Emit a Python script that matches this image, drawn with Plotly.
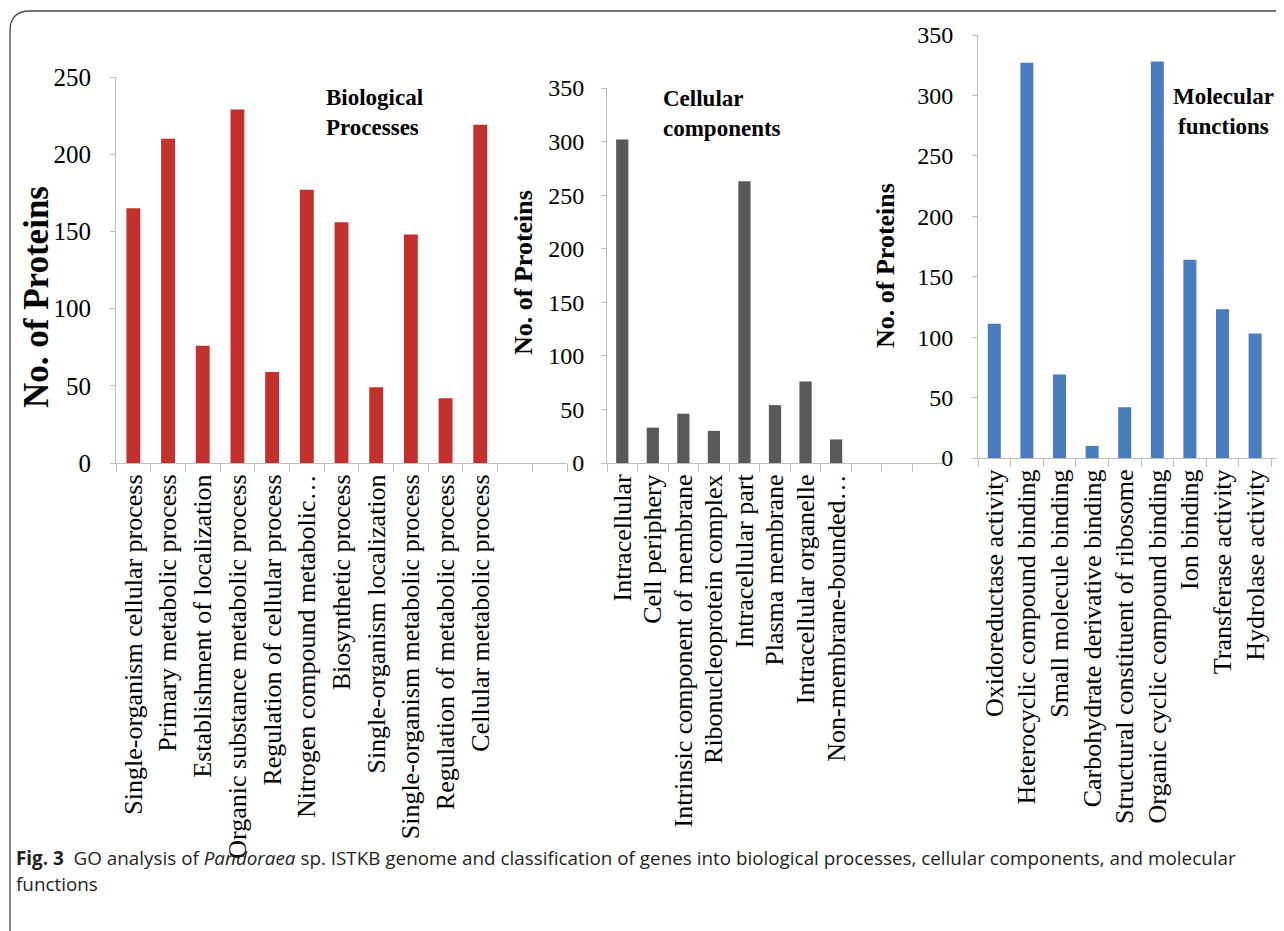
import plotly.graph_objects as go

# ---------------- data ----------------
bp_labels = [
    "Single-organism cellular process",
    "Primary metabolic process",
    "Establishment of localization",
    "Organic substance metabolic process",
    "Regulation of cellular process",
    "Nitrogen compound metabolic…",
    "Biosynthetic process",
    "Single-organism localization",
    "Single-organism metabolic process",
    "Regulation of metabolic process",
    "Cellular metabolic process",
]
bp_values = [165, 210, 76, 229, 59, 177, 156, 49, 148, 42, 219]

cc_labels = [
    "Intracellular",
    "Cell periphery",
    "Intrinsic component of membrane",
    "Ribonucleoprotein complex",
    "Intracellular part",
    "Plasma membrane",
    "Intracellular organelle",
    "Non-membrane-bounded…",
]
cc_values = [302, 33, 46, 30, 263, 54, 76, 22]

mf_labels = [
    "Oxidoreductase activity",
    "Heterocyclic compound binding",
    "Small molecule binding",
    "Carbohydrate derivative binding",
    "Structural constituent of ribosome",
    "Organic cyclic compound binding",
    "Ion binding",
    "Transferase activity",
    "Hydrolase activity",
]
mf_values = [111, 327, 69, 10, 42, 328, 164, 123, 103]

# ---------------- helpers ----------------
W, H = 1284, 931
OFF = 8  # page body margin


def px(x):
    return (x - OFF) / W


def py(y):
    return 1 - (y - OFF) / H


SERIF = "Liberation Serif, Times New Roman, serif"
AX_COL = "#BDBDBD"

fig = go.Figure()
fig.add_trace(go.Bar(x=bp_labels, y=bp_values, marker=dict(color="#C3312E", line=dict(width=0)),
                     xaxis="x", yaxis="y", width=0.4))
fig.add_trace(go.Bar(x=cc_labels, y=cc_values, marker=dict(color="#595959", line=dict(width=0)),
                     xaxis="x2", yaxis="y2", width=0.4))
fig.add_trace(go.Bar(x=mf_labels, y=mf_values, marker=dict(color="#4A7DBB", line=dict(width=0)),
                     xaxis="x3", yaxis="y3", width=0.4))


def xax(domain, cats, rng, anchor, size):
    return dict(domain=domain, anchor=anchor, type="category", categoryorder="array",
                categoryarray=cats, range=rng, tickmode="linear", tick0=0, dtick=1,
                showline=True, linecolor=AX_COL, linewidth=1,
                ticks="outside", tickson="boundaries", ticklen=8, tickcolor=AX_COL,
                tickangle=-90, tickfont=dict(family=SERIF, size=size, color="black"),
                showgrid=False, zeroline=False, automargin=False, fixedrange=True)


def yax(domain, rng, anchor, size, standoff):
    return dict(domain=domain, anchor=anchor, range=rng, dtick=50, showline=True,
                linecolor=AX_COL, linewidth=1, ticks="outside", ticklen=5, tickcolor=AX_COL,
                tickfont=dict(family=SERIF, size=size, color="black"), showgrid=False,
                zeroline=False, automargin=False, ticklabelstandoff=standoff, fixedrange=True)


fig.update_layout(
    width=W, height=H,
    margin=dict(l=0, r=0, t=0, b=0, pad=0),
    paper_bgcolor="white", plot_bgcolor="white",
    showlegend=False, bargap=0.6,
    xaxis=xax([px(116), px(567)], bp_labels + [" ", "  "], [-0.5, 12.5], "y", 26),
    yaxis=yax([py(463), py(77)], [0, 250], "x", 25, 14),
    xaxis2=xax([px(607), px(943)], cc_labels + [" ", "  ", "   "], [-0.5, 10.5], "y2", 26),
    yaxis2=yax([py(463), py(88)], [0, 350], "x2", 24, 12),
    xaxis3=xax([px(978), px(1290)], mf_labels + [" "], [-0.5, 9.07], "y3", 26),
    yaxis3=yax([py(458), py(35)], [0, 350], "x3", 24, 14),
)

ann = []
# y-axis titles
for (cx, cy, size) in [(37, 297, 35), (523, 273, 26), (886, 266, 26)]:
    ann.append(dict(text="<b>No. of Proteins</b>", x=px(cx), y=py(cy), xref="paper", yref="paper",
                    textangle=-90, showarrow=False, xanchor="center", yanchor="middle",
                    font=dict(family=SERIF, size=size, color="black")))
# panel titles
ann.append(dict(text="<b>Biological<br>Processes</b>", x=px(324), y=py(83), xref="paper", yref="paper",
                showarrow=False, xanchor="left", yanchor="top", align="left",
                font=dict(family=SERIF, size=23, color="black")))
ann.append(dict(text="<b>Cellular<br>components</b>", x=px(661), y=py(84), xref="paper", yref="paper",
                showarrow=False, xanchor="left", yanchor="top", align="left",
                font=dict(family=SERIF, size=23, color="black")))
ann.append(dict(text="<b>Molecular<br>functions</b>", x=px(1223), y=py(82), xref="paper", yref="paper",
                showarrow=False, xanchor="center", yanchor="top", align="center",
                font=dict(family=SERIF, size=23, color="black")))
# caption
CAP = "Open Sans, Noto Sans, sans-serif"
ann.append(dict(text="<b>Fig. 3</b>  GO analysis of <i>Pandoraea</i> sp. ISTKB genome and classification of genes "
                     "into biological processes, cellular components, and molecular",
                x=px(14), y=py(858), xref="paper", yref="paper", showarrow=False,
                xanchor="left", yanchor="middle", font=dict(family=CAP, size=18.85, color="#231F20")))
ann.append(dict(text="functions", x=px(14), y=py(884), xref="paper", yref="paper", showarrow=False,
                xanchor="left", yanchor="middle", font=dict(family=CAP, size=18.85, color="#231F20")))
fig.update_layout(annotations=ann)

# rounded frame (top-left corner visible)
path = (f"M {px(1300)} {py(11)} L {px(30)} {py(11)} Q {px(10)} {py(11)} {px(10)} {py(31)} "
        f"L {px(10)} {py(950)}")
fig.add_shape(type="path", path=path, xref="paper", yref="paper",
              line=dict(color="#4A4A4A", width=1.3))

fig.write_html("out.html")
